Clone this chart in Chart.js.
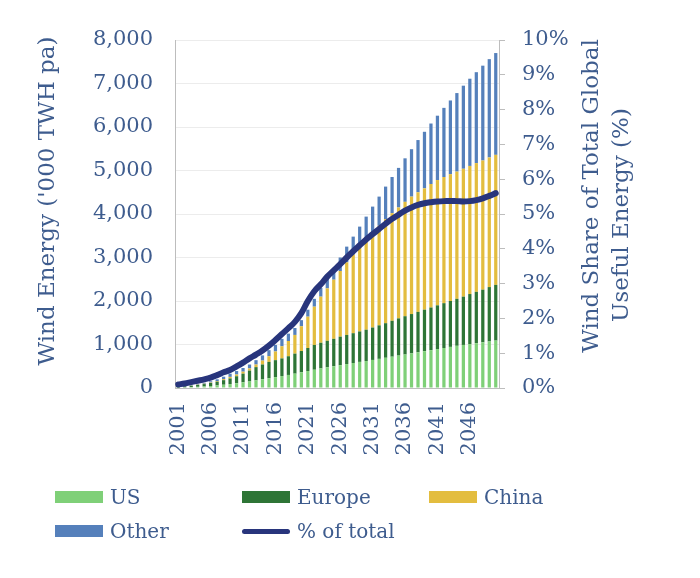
<!DOCTYPE html>
<html>
<head>
<meta charset="utf-8">
<script src="https://cdn.jsdelivr.net/npm/chart.js@4.4.0/dist/chart.umd.min.js"></script>
<style>
  body { margin: 0; background: #fff; }
  #wrap { position: relative; width: 700px; height: 578px; }
  #chart { position: absolute; left: 0; top: 0; }
  .legend-item { position: absolute; display: flex; align-items: center; height: 30px;
    font: 20px "DejaVu Serif", serif; color: #3e5c8e; white-space: nowrap; }
  .swatch { width: 48px; height: 12px; margin-right: 7px; }
  .swatch.line { height: 5px; border-radius: 3px; }
</style>
</head>
<body>
<div id="wrap">
  <canvas id="chart" width="700" height="578"></canvas>
  <div id="legend"></div>
</div>
<script>
// Years shown as categories
const years = ['2001','2002','2003','2004','2005','2006','2007','2008','2009','2010',
  '2011','2012','2013','2014','2015','2016','2017','2018','2019','2020',
  '2021','2022','2023','2024','2025','2026','2027','2028','2029','2030',
  '2031','2032','2033','2034','2035','2036','2037','2038','2039','2040',
  '2041','2042','2043','2044','2045','2046','2047','2048','2049','2050'];
const tickYears = ['2001','2006','2011','2016','2021','2026','2031','2036','2041','2046'];

// Wind energy ('000 TWH pa) per region
const usValues = [10,15,20,28,35,45,60,75,90,110, 130,150,175,200,225,250,275,300,330,360,
  390,420,450,475,500,525,550,575,600,620, 645,670,695,720,745,770,795,820,845,870,
  895,920,945,970,990,1010,1030,1050,1070,1090];
const europeValues = [15,23,32,42,55,70,85,105,130,160, 200,250,305,340,375,390,405,430,460,490,
  530,570,590,610,630,655,670,685,700,720, 745,770,795,825,855,880,905,930,955,980,
  1005,1030,1055,1080,1110,1150,1180,1210,1250,1280];
const chinaValues = [2,2,4,6,8,10,15,25,35,40, 45,50,60,90,130,200,280,350,430,570,
  720,880,1060,1205,1360,1510,1670,1810,1950,2100, 2190,2290,2390,2475,2550,2630,2700,2750,2790,2840,
  2880,2900,2915,2925,2940,2945,2960,2970,2980,2990];
const otherValues = [3,5,9,14,22,30,40,55,75,80, 85,90,100,120,140,150,170,170,160,140,
  160,180,200,230,270,310,360,410,460,500, 590,670,750,830,910,1000,1090,1200,1300,1390,
  1480,1590,1695,1805,1910,2005,2090,2180,2260,2340];

// Wind share of total global useful energy (%)
const shareValues = [0.10,0.13,0.17,0.21,0.25,0.30,0.37,0.45,0.52,0.62,
  0.73,0.85,0.96,1.08,1.22,1.38,1.55,1.72,1.90,2.15,
  2.50,2.78,2.98,3.20,3.38,3.56,3.75,3.93,4.10,4.27,
  4.42,4.57,4.72,4.86,4.98,5.10,5.19,5.26,5.31,5.34,
  5.36,5.37,5.37,5.37,5.36,5.37,5.40,5.45,5.52,5.60];

const leftTitle = "Wind Energy ('000 TWH pa)";
const rightTitle = ['Wind Share of Total Global', 'Useful Energy (%)'];

const textColor = '#3e5c8e';
const tickFont = { family: '"DejaVu Serif", serif', size: 21 };
const colors = { us: '#7fd078', europe: '#2e7536', china: '#e3bd3f', other: '#5580bb', share: '#28357c' };

// axis titles drawn by hand so the right one reads bottom-to-top like the left one
const titlePlugin = {
  id: 'axisTitles',
  afterDraw(chart) {
    const c = chart.ctx;
    const put = (txt, x, y) => {
      c.save();
      c.translate(x, y);
      c.rotate(-Math.PI / 2);
      c.fillText(txt, 0, 0);
      c.restore();
    };
    c.save();
    c.fillStyle = textColor;
    c.font = '23px "DejaVu Serif", serif';
    c.textAlign = 'center';
    c.textBaseline = 'middle';
    put(leftTitle, 48, 201);
    put(rightTitle[0], 592, 196);
    put(rightTitle[1], 622, 215);
    c.restore();
  }
};

const chart = new Chart(document.getElementById('chart').getContext('2d'), {
  type: 'bar',
  data: {
    labels: years,
    datasets: [
      { type: 'line', label: '% of total', data: shareValues, yAxisID: 'y1', borderColor: colors.share,
        borderWidth: 6, pointRadius: 0, tension: 0.4, borderCapStyle: 'round', order: 0 },
      { label: 'US', data: usValues, backgroundColor: colors.us, yAxisID: 'y', order: 1 },
      { label: 'Europe', data: europeValues, backgroundColor: colors.europe, yAxisID: 'y', order: 1 },
      { label: 'China', data: chinaValues, backgroundColor: colors.china, yAxisID: 'y', order: 1 },
      { label: 'Other', data: otherValues, backgroundColor: colors.other, yAxisID: 'y', order: 1 }
    ]
  },
  options: {
    responsive: false,
    animation: false,
    layout: { padding: { top: 40, left: 0, right: 0, bottom: 0 } },
    datasets: { bar: { barPercentage: 0.5, categoryPercentage: 1 } },
    plugins: { legend: { display: false }, tooltip: { enabled: false } },
    scales: {
      x: {
        stacked: true,
        grid: { display: false, drawTicks: false },
        border: { color: '#bdbdbd' },
        ticks: {
          autoSkip: false, minRotation: 90, maxRotation: 90, padding: 14,
          color: textColor, font: tickFont,
          callback: (v, i) => tickYears.includes(years[i]) ? years[i] : ''
        },
        afterFit: s => { s.height = 190; }
      },
      y: {
        stacked: true, min: 0, max: 8000,
        grid: { color: '#ececec', drawTicks: false },
        border: { color: '#bdbdbd' },
        ticks: { stepSize: 1000, padding: 22, color: textColor, font: tickFont,
          callback: v => v.toLocaleString('en-US') },
        afterFit: s => { s.width = 175; }
      },
      y1: {
        position: 'right', min: 0, max: 10,
        grid: { drawOnChartArea: false, tickLength: 6, color: '#bdbdbd' },
        border: { color: '#bdbdbd' },
        ticks: { stepSize: 1, padding: 17, color: textColor, font: tickFont,
          callback: v => v + '%' },
        afterFit: s => { s.width = 201; }
      }
    }
  },
  plugins: [titlePlugin]
});

// html legend laid out on a fixed grid like the original
const legendItems = [
  { text: 'US', color: colors.us, col: 0, row: 0 },
  { text: 'Europe', color: colors.europe, col: 1, row: 0 },
  { text: 'China', color: colors.china, col: 2, row: 0 },
  { text: 'Other', color: colors.other, col: 0, row: 1 },
  { text: '% of total', color: colors.share, col: 1, row: 1, line: true }
];
const legend = document.getElementById('legend');
legendItems.forEach(it => {
  const el = document.createElement('div');
  el.className = 'legend-item';
  el.style.left = (55 + it.col * 187) + 'px';
  el.style.top = (482 + it.row * 34) + 'px';
  el.innerHTML = `<span class="swatch${it.line ? ' line' : ''}" style="background:${it.color}"></span>${it.text}`;
  legend.appendChild(el);
});
</script>
</body>
</html>
